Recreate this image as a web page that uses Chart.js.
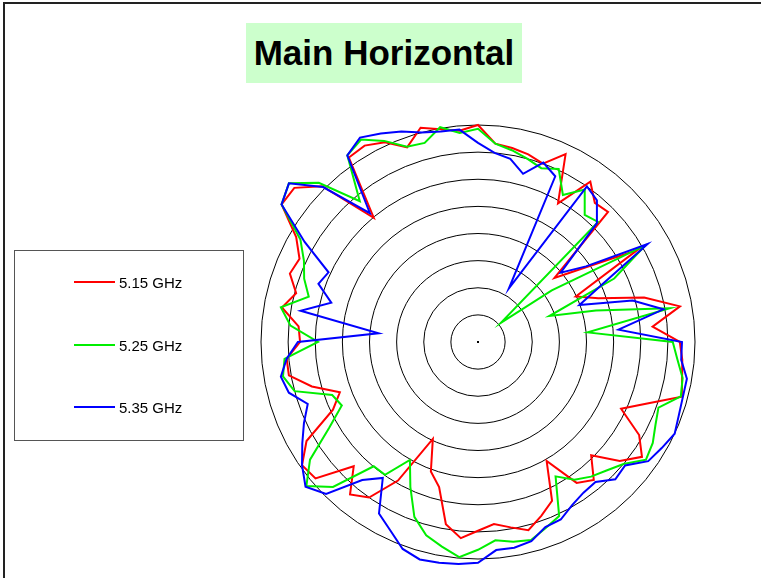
<!DOCTYPE html>
<html>
<head>
<meta charset="utf-8">
<title>Main Horizontal</title>
<script src="https://cdn.jsdelivr.net/npm/chart.js@4.4.0/dist/chart.umd.min.js"></script>
<style>
    body { margin: 0; background: #fff; font-family: "Liberation Sans", Arial, sans-serif; }
    #page { position: relative; width: 761px; height: 578px; overflow: hidden; }
    #frame { position: absolute; left: 3px; top: 2px; width: 800px; height: 600px; border-left: 2px solid #222; border-top: 2px solid #222; }
    #chartTitle { position: absolute; left: 246px; top: 23px; width: 276px; height: 60px; background: #ccffcc; color: #000; font-weight: bold; font-size: 35px; line-height: 60px; text-align: center; }
    #legendBox { position: absolute; left: 14px; top: 250px; width: 228px; height: 189px; border: 1px solid #555; }
    .legend-item { position: absolute; left: 59px; height: 20px; display: flex; align-items: center; font-size: 15px; color: #000; }
    .legend-line { display: inline-block; width: 41px; height: 2px; margin-right: 4px; }
    #polarChart { position: absolute; left: 0; top: 0; }
</style>
</head>
<body>
<div id="page">
    <div id="frame"></div>
    <canvas id="polarChart" width="761" height="578"></canvas>
    <div id="chartTitle">Main Horizontal</div>
    <div id="legendBox"></div>
</div>
<script>
/*Pattern data, dB, one value every 5 degrees clockwise from 0*/
var angles = [];
for (var a = 0; a < 360; a += 5) { angles.push(a + '°'); }

var seriesNames = ['5.15 GHz', '5.25 GHz', '5.35 GHz'];
var seriesColors = ['#ff0000', '#00ee00', '#0000ff'];

var gain515 = [
    0.0, -3.3, -3.7, -4.2, -5.0, -1.8, -10.5, -3.9, -6.5, -6.1, -21.6, -16.2,
    -6.1, -20.1, -16.4, -8.3, -2.2, -7.7, -2.8, -2.2, -1.8, -1.1, -6.8, -10.9,
    -5.7, -3.1, -5.9, -10.5, -6.8, -8.3, -14.7, -7.7, -5.9, -4.1, -5.3, -6.3,
    -5.2, -3.7, -5.9, -12.3, -14.6, -20.3, -10.5, -5.0, -3.3, -7.6, -0.9, -0.4,
    -3.5, -10.5, -12.9, -8.3, -4.6, -4.6, -7.2, -6.8, -3.3, -5.3, -3.1, -3.7,
    -1.3, 4.2, 4.2, 0.6, -10.1, 1.5, 1.8, 0.6, -1.8, 0.9, -0.2, -0.9
];
var gain525 = [
    -0.7, -3.3, -4.1, -5.0, -5.9, -4.8, -8.7, -5.7, -9.4, -8.7, -34.5, -23.4,
    -4.4, -12.3, -26.0, -17.5, -4.1, -19.7, -4.1, -3.1, -1.7, -1.3, -4.6, -3.9,
    -2.8, -2.2, -5.0, -6.5, -7.6, -9.0, -11.4, -4.6, -3.5, -2.2, -2.6, -3.3,
    -1.7, -0.2, -1.7, -3.1, -5.7, -10.5, -14.9, -10.1, -10.1, -2.2, 1.3, -2.2,
    -8.3, -12.3, -11.4, -5.0, -3.5, -4.2, -10.5, -5.3, -3.1, -7.7, -5.9, -4.6,
    -2.2, 4.2, 5.5, 1.5, -6.1, 2.0, 3.1, 0.9, -1.7, -2.0, 0.2, -1.3
];
var gain535 = [
    -3.3, -5.0, -5.7, -7.9, -4.8, -6.3, -28.6, -5.0, -5.9, -9.0, -20.1, -15.7,
    -3.9, -14.6, -20.1, -10.5, -5.3, -14.0, -2.4, -2.4, -0.9, -0.9, -0.6, 0.0,
    -0.9, -1.7, -4.6, -4.2, -6.3, -6.1, -5.3, -3.9, -3.7, -2.0, -1.5, -1.5,
    0.7, 1.1, 1.3, 1.5, 0.6, -1.7, -3.5, -9.4, -6.8, -0.4, 1.5, -0.4,
    -2.6, -4.6, -6.6, -3.9, -3.1, -4.6, -6.8, -21.6, -6.8, -12.0, -8.7, -9.6,
    -3.1, 4.2, 5.5, 0.4, -9.0, 2.0, 3.5, 2.4, 1.3, 0.0, -0.6, -0.7
];

var ringMin = -40;
var ringMax = 0;
var ringStep = 5;

DrawPattern();
BuildLegend();

/*Draw polar pattern*/
function DrawPattern() {
    var series = [gain515, gain525, gain535];
    var datasets = [];
    for (var i = 0; i < series.length; i++) {
        datasets.push({
            label: seriesNames[i],
            data: series[i],
            borderColor: seriesColors[i],
            backgroundColor: seriesColors[i],
            borderWidth: 2,
            pointRadius: 0,
            fill: false,
            tension: 0,
            clip: false,
            order: series.length - i
        });
    }

    // small dot marking the pole
    var poleDot = {
        id: 'poleDot',
        afterDraw: function (chart) {
            var r = chart.scales.r;
            var ctx = chart.ctx;
            ctx.save();
            ctx.fillStyle = '#000';
            ctx.fillRect(r.xCenter - 1, r.yCenter - 1, 2, 2);
            ctx.restore();
        }
    };

    var myChart = new Chart(document.getElementById('polarChart'), {
        type: 'radar',
        data: {
            labels: angles,
            datasets: datasets
        },
        options: {
            responsive: false,
            animation: false,
            events: [],
            layout: {
                padding: { left: 261, right: 66, top: 125, bottom: 19 }
            },
            plugins: {
                legend: { display: false },
                title: { display: false },
                tooltip: { enabled: false }
            },
            scales: {
                r: {
                    min: ringMin,
                    max: ringMax,
                    ticks: { display: false, stepSize: ringStep },
                    grid: { circular: true, color: '#000', lineWidth: 1 },
                    angleLines: { display: false },
                    pointLabels: { display: false }
                }
            }
        },
        plugins: [poleDot]
    });
}

/*Legend box*/
function BuildLegend() {
    var rows = [31, 94, 156];
    var html = '';
    for (var i = 0; i < seriesNames.length; i++) {
        html += '<div class="legend-item" style="top:' + (rows[i] - 10) + 'px">' +
            '<span class="legend-line" style="background:' + seriesColors[i] + '"></span>' +
            seriesNames[i] + '</div>';
    }
    document.getElementById('legendBox').innerHTML = html;
}
</script>
</body>
</html>
